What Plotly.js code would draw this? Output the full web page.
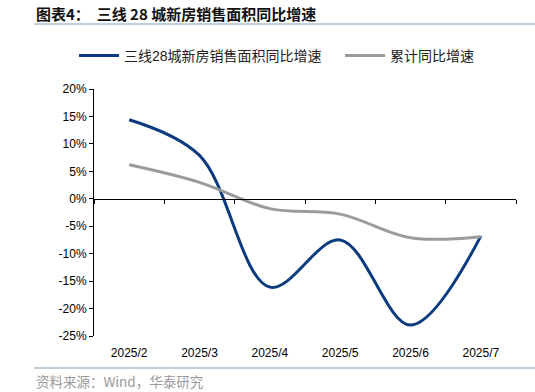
<!DOCTYPE html>
<html>
<head>
<meta charset="utf-8">
<script src="https://cdn.plot.ly/plotly-3.0.1.min.js"></script>
<style>
html,body{margin:0;padding:0;background:#fff;}
#chart{width:535px;height:392px;}
</style>
</head>
<body>
<div id="chart"></div>
<script>
const categories = ["2025/2","2025/3","2025/4","2025/5","2025/6","2025/7"];
const monthlyYoY = [14.4, 7.9, -16.1, -7.5, -23.0, -6.8];
const cumulativeYoY = [6.2, 3.0, -1.8, -2.8, -7.1, -6.9];
const seriesNames = ["三线28城新房销售面积同比增速", "累计同比增速"];
const yTickVals = [-25,-20,-15,-10,-5,0,5,10,15,20];
const yTickText = yTickVals.map(v => v + "%");

const CJK = "Liberation Sans, Arial, Noto Sans CJK SC, sans-serif";

const traces = [
  {
    x: categories, y: cumulativeYoY.map(v => v/100), name: seriesNames[1],
    type: "scatter", mode: "lines", xaxis: "x2", yaxis: "y", legend: "legend2",
    line: {color: "#9b9b9b", width: 3, shape: "spline", smoothing: 1},
    hoverinfo: "skip"
  },
  {
    x: categories, y: monthlyYoY.map(v => v/100), name: seriesNames[0],
    type: "scatter", mode: "lines", xaxis: "x", yaxis: "y", legend: "legend",
    line: {color: "#0b3b7f", width: 3, shape: "spline", smoothing: 1},
    hoverinfo: "skip"
  }
];

const zeroPos = 25/45;
const legendCommon = {
  orientation: "h", xref: "container", yref: "container", xanchor: "left",
  y: 1 - 56/392, yanchor: "middle", itemwidth: 40,
  font: {family: CJK, size: 14, color: "#222"}, bgcolor: "rgba(0,0,0,0)"
};

const layout = {
  width: 535, height: 392,
  margin: {l: 94, r: 19, t: 89, b: 56},
  paper_bgcolor: "#fff", plot_bgcolor: "#fff",
  font: {family: CJK, size: 12, color: "#000"},
  showlegend: true,
  legend: Object.assign({}, legendCommon, {x: 74/535}),
  legend2: Object.assign({}, legendCommon, {x: 340/535}),
  xaxis: {
    type: "category", categoryarray: categories, range: [-0.5, 5.5],
    anchor: "free", position: zeroPos,
    showline: true, linecolor: "#000", linewidth: 1,
    ticks: "outside", ticklen: 4, tickcolor: "#000", tickson: "boundaries",
    showticklabels: false, showgrid: false, zeroline: false, fixedrange: true
  },
  xaxis2: {
    type: "category", categoryarray: categories, range: [-0.5, 5.5],
    overlaying: "x", anchor: "y", side: "bottom",
    showline: false, ticks: "", showgrid: false, zeroline: false,
    tickfont: {family: CJK, size: 12, color: "#000"}, ticklabelstandoff: 8
  },
  yaxis: {
    range: [-0.25, 0.20], tickvals: yTickVals.map(v => v/100), ticktext: yTickText,
    showline: true, linecolor: "#000", linewidth: 1,
    ticks: "outside", ticklen: 4, tickcolor: "#000",
    showgrid: false, zeroline: false,
    tickfont: {family: CJK, size: 12, color: "#000"}
  },
  annotations: [
    {xref: "paper", yref: "paper", x: -0.142, y: 1.306, xanchor: "left", yanchor: "middle",
     text: "<b>图表4：  三线 28 城新房销售面积同比增速</b>", showarrow: false,
     font: {family: "Noto Sans CJK SC, sans-serif", size: 15, color: "#111"}},
    {xref: "paper", yref: "paper", x: -0.142, y: -0.183, xanchor: "left", yanchor: "middle",
     text: "资料来源：Wind，华泰研究", showarrow: false,
     font: {family: "Noto Sans CJK SC, sans-serif", size: 13.5, color: "#9a9a9a"}}
  ],
  shapes: [
    {type: "line", xref: "paper", yref: "paper", x0: -0.142, x1: 1.045, y0: 1.263, y1: 1.263,
     line: {color: "#a9bfd3", width: 1.5}},
    {type: "line", xref: "paper", yref: "paper", x0: -0.142, x1: 1.045, y0: -0.13, y1: -0.13,
     line: {color: "#a9bfd3", width: 1.5}}
  ]
};

Plotly.newPlot("chart", traces, layout, {displayModeBar: false, staticPlot: true});
</script>
</body>
</html>
